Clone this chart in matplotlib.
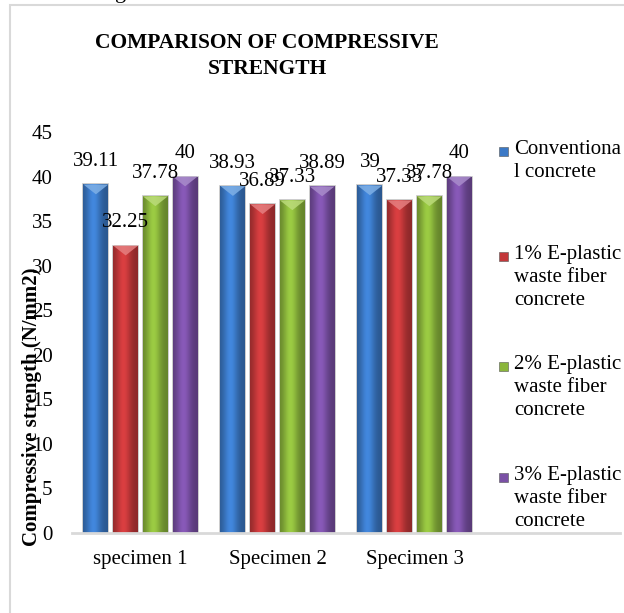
import numpy as np
import matplotlib
matplotlib.use("Agg")
import matplotlib.pyplot as plt
from matplotlib.patches import Rectangle, Polygon
from matplotlib.colors import to_rgb

plt.rcParams['font.family'] = ['Liberation Serif', 'DejaVu Serif']

categories = ["specimen 1", "Specimen 2", "Specimen 3"]
series_names = ["Conventiona\nl concrete",
                "1% E-plastic\nwaste fiber\nconcrete",
                "2% E-plastic\nwaste fiber\nconcrete",
                "3% E-plastic\nwaste fiber\nconcrete"]
values = [
    [39.11, 38.93, 39.00],   # conventional
    [32.25, 36.89, 37.33],   # 1%
    [37.78, 37.33, 37.78],   # 2%
    [40.00, 38.89, 40.00],   # 3%
]
value_labels = [
    ["39.11", "38.93", "39"],
    ["32.25", "36.89", "37.33"],
    ["37.78", "37.33", "37.78"],
    ["40", "38.89", "40"],
]
colors = ["#3b79c6", "#c3383a", "#8bb63c", "#7a50a5"]
cap_colors = ["#7fb0e6", "#e57f80", "#bbdb7a", "#a98ccb"]

W, H = 624, 613
fig = plt.figure(figsize=(W / 100, H / 100), dpi=100)

# outer chart frame
fig.patches.append(Rectangle((10 / W, -0.1), 1.2, 1 - 5 / H + 0.1,
                             transform=fig.transFigure, fill=False,
                             edgecolor="#d9d9d9", linewidth=1.5))
# cut-off caption letter from the page above
fig.text(115 / W, 1 + 2 / H, "g", fontsize=16, va="baseline", ha="left")

ax = fig.add_axes([72 / W, (H - 533) / H, (620 - 72) / W, (533 - 132) / H])

x = np.arange(len(categories))
step = 0.217
width = 0.182
cap_depth = 1.1

# horizontal shading across each bar (darker edges, lighter centre)
u = np.linspace(0, 1, 40)
shade = 0.72 + 0.4 * np.exp(-((u - 0.42) / 0.3) ** 2)

for i, vals in enumerate(values):
    xs = x + (i - 1.5) * step
    bars = ax.bar(xs, vals, width=width, color=colors[i], edgecolor="#c4c4c4",
                  linewidth=1.2, zorder=2)
    base = np.array(to_rgb(colors[i]))
    img = np.clip(shade[None, :, None] * base[None, None, :], 0, 1)
    for b, xi, v, lab in zip(bars, xs, vals, value_labels[i]):
        im = ax.imshow(img, extent=[xi - width / 2, xi + width / 2, 0, v],
                       aspect="auto", interpolation="bilinear", zorder=2.5)
        im.set_clip_path(b)
        ax.add_patch(Polygon([[xi - width / 2, v], [xi + width / 2, v],
                              [xi, v - cap_depth]], closed=True,
                             facecolor=cap_colors[i], edgecolor="none",
                             alpha=0.85, zorder=3))
        ax.annotate(lab, (xi, v), xytext=(0, 23), textcoords="offset pixels",
                    ha="center", va="center", fontsize=15, zorder=4)

ax.set_xlim(-0.5, 3.5)
ax.set_ylim(0, 45)
ax.set_aspect("auto")
ax.set_yticks(np.arange(0, 46, 5))
ax.set_xticks(x)
ax.set_xticklabels(categories, fontsize=15)
ax.tick_params(axis="y", length=0, pad=14, labelsize=15)
ax.tick_params(axis="x", length=0, pad=12)
for s in ["left", "top", "right"]:
    ax.spines[s].set_visible(False)
ax.spines["bottom"].set_color("#d9d9d9")
ax.spines["bottom"].set_linewidth(2)
ax.patch.set_visible(False)

fig.text(32 / W, (H - 407) / H, "Compressive strength (N/mm2)", rotation=90,
         ha="center", va="center", fontsize=15, fontweight="bold")

fig.text(267 / W, (H - 56) / H, "COMPARISON OF COMPRESSIVE\nSTRENGTH",
         ha="center", va="center", fontsize=15.5, fontweight="bold",
         linespacing=1.35)

# legend
legend_y = [152, 257, 367, 478]
for name, c, ly in zip(series_names, colors, legend_y):
    fig.patches.append(Rectangle((499 / W, (H - ly - 4) / H), 9 / W, 9 / H,
                                 transform=fig.transFigure, facecolor=c,
                                 edgecolor="#555555", linewidth=0.4))
    fig.text(514 / W, (H - ly + 12) / H, name, ha="left", va="top",
             fontsize=15, linespacing=1.3)

fig.savefig("out.png", dpi=100)
